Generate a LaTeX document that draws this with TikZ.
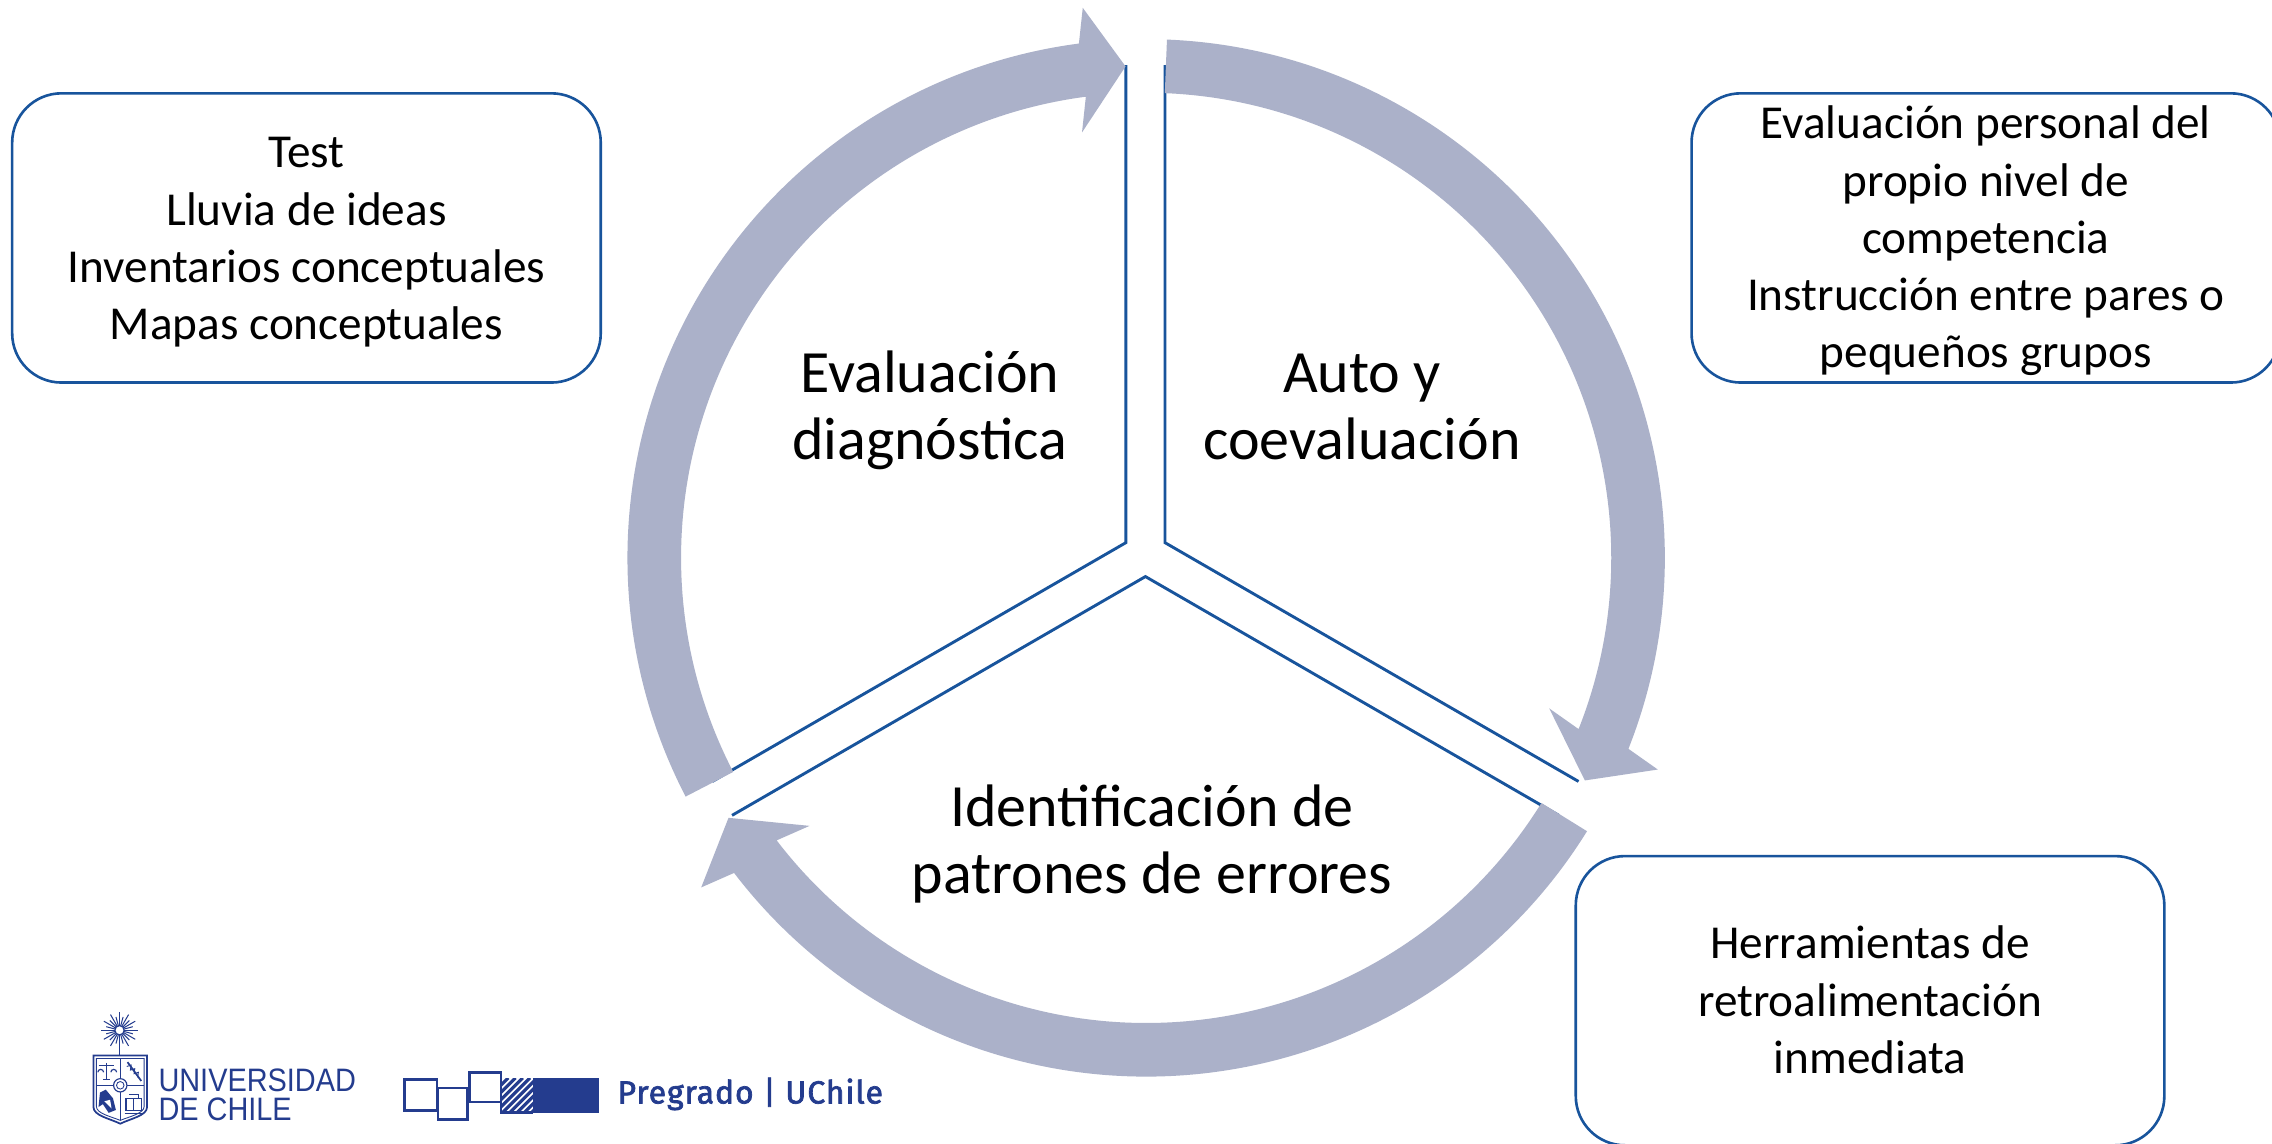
\documentclass[tikz,border=0pt]{standalone}
\usepackage{fontspec}
\setmainfont{Carlito}
\newfontfamily\ucfont[FakeStretch=0.89]{Liberation Sans}
\newfontfamily\pgfont[FakeBold=2.2,LetterSpace=3]{Fira Sans}
\usetikzlibrary{calc}
\definecolor{ringgray}{RGB}{171,177,201}
\definecolor{lineblue}{RGB}{24,84,156}
\definecolor{logoblue}{RGB}{36,60,142}
\newcommand{\cycarrow}[3]{%
  \fill[ringgray] (#1:\Ro) arc[start angle=#1, end angle=#2, radius=\Ro]
    -- ($(#2:\Rm)+(#2-7.8:\Hw)$) -- (#3:\Rm) -- ($(#2:\Rm)+(#2+172.2:\Hw)$)
    -- (#2:\Ri) arc[start angle=#2, end angle=#1, radius=\Ri] -- cycle;}
\begin{document}
\begin{tikzpicture}[x=0.5pt,y=-0.5pt,
  infobox/.style={draw=lineblue, line width=0.9pt, rounded corners=17pt,
    minimum width=203.1pt, minimum height=99.8pt, inner sep=0pt, outer sep=0pt},
  boxtext/.style={align=center, font=\fontsize{16.3pt}{19.7pt}\selectfont, inner sep=0pt},
  bigtext/.style={align=center, font=\fontsize{20.7pt}{23.15pt}\selectfont, inner sep=0pt},
  wedgeline/.style={draw=lineblue, line width=1pt, line join=miter},
  logoline/.style={draw=logoblue, line width=0.4pt},
  ucname/.style={anchor=base west, inner sep=0pt, text=logoblue,
    font=\ucfont\fontsize{11.2pt}{12pt}\selectfont},
]
\fill[white] (0,0) rectangle (1568,789.5);
\useasboundingbox (0,0) rectangle (1568,789.5);

% side boxes
\node[infobox] (b1) at (211.5,164.2) {};
\node[infobox] (b2) at (1370.5,164.2) {};
\node[infobox] (b3) at (1290.6,690.6) {};
\node[boxtext] (t1) at (211.5,167.1) {\strut Test\\Lluvia de ideas\\Inventarios conceptuales\\Mapas conceptuales\strut};
\node[boxtext] (t2) at (1370.5,166.8) {\strut Evaluación personal del\\propio nivel de\\competencia\\Instrucción entre pares o\\pequeños grupos\strut};
\node[boxtext] (t3) at (1290.6,693.3) {\strut Herramientas de\\retroalimentación\\inmediata\strut};

% wedge sides
\draw[wedgeline] (777,45) -- (777,374.5) -- (491.6,539.3);
\draw[wedgeline] (804,45) -- (804,374.5) -- (1089.4,539.3);
\draw[wedgeline] (505.2,562.7) -- (790.5,397.9) -- (1075.8,562.7);

% circular arrows
\begin{scope}[shift={(791,385)}, yscale=-1]
  \def\Ro{358}\def\Ri{321}\def\Rm{339.5}\def\Hw{43}
  \cycarrow{207.4}{97.45}{92.4}
  \cycarrow{87.7}{-21.6}{-26.9}
  \cycarrow{-31.8}{-142.6}{-148.1}
\end{scope}

% stage labels
\node[bigtext] (l1) at (641.7,284.5) {\strut Evaluación\\diagnóstica\strut};
\node[bigtext] (l2) at (940,284.5) {\strut Auto y\\coevaluación\strut};
\node[bigtext] (l3) at (795,584.4) {\strut Identificación de\\patrones de errores\strut};

% Universidad de Chile logo
\foreach \a in {0,30,...,330} {
  \draw[logoline, line width=0.35pt] (82.5,711) -- ++(\a:12.5);
  \draw[logoline, line width=0.35pt] (82.5,711) -- ++(\a+15:9.5);
}
\filldraw[fill=white, logoline] (82.5,711) circle[radius=3.2];
\draw[logoline] (82.5,722) -- (82.5,728.5);
\draw[logoline, line width=0.6pt] (64.5,728.5) -- (101.5,728.5) -- (101.5,764)
  .. controls (101.5,770) and (90,772) .. (83,775.5)
  .. controls (76,772) and (64.5,770) .. (64.5,764) -- cycle;
\draw[logoline, line width=0.3pt] (66.5,730.5) -- (99.5,730.5) -- (99.5,763.5)
  .. controls (99.5,768.5) and (89.5,770.5) .. (83,773.2)
  .. controls (76.5,770.5) and (66.5,768.5) .. (66.5,763.5) -- cycle;
\draw[logoline] (83,730.5) -- (83,773) (66.5,749) -- (99.5,749);
\filldraw[fill=white, logoline] (83,749) circle[radius=4.6];
\draw[logoline, line width=0.3pt] (83,749) circle[radius=2.6];
% scales
\draw[logoline] (68,735.5) -- (79,735.5) (73.5,733.5) -- (73.5,745) (71,745) -- (76,745);
\draw[logoline] (67.5,740) arc[start angle=180, end angle=360, radius=2]
  (76.5,740) arc[start angle=180, end angle=360, radius=2];
% caduceus
\draw[logoline, line width=0.6pt] (88,733) -- (97.5,746);
\draw[logoline, line width=0.3pt] (87.5,736) -- (90.5,735) -- (90,738.5) -- (93,737.5) -- (92.5,741) -- (95.5,740) -- (95,743.5);
% lower-left figure
\fill[logoblue] (69,754) -- (73,752) -- (78,758) -- (80,766) -- (75,768) -- (71,762) -- (68,764) -- cycle;
\fill[white] (72,760) -- (76,759) -- (77,765) -- cycle;
% lower-right book
\draw[logoline] (87,758) rectangle (97.5,766.5) (86,768.5) -- (98.5,768.5) (89,755.5) -- (95.5,755.5) -- (95.5,758);
\draw[logoline, line width=0.3pt] (92.2,758) -- (92.2,766.5);
\node[ucname] (uch1) at (109,753.4) {UNIVERSIDAD};
\node[ucname] (uch2) at (109,773) {DE CHILE};

% Pregrado logo
\begin{scope}[draw=logoblue, line width=0.9pt]
  \filldraw[fill=white] (279.2,745.1) rectangle (301.5,766.3);
  \filldraw[fill=white] (302.3,750.9) rectangle (322.8,772.5);
  \filldraw[fill=white] (324.1,740.1) rectangle (345.8,760.5);
\end{scope}
\fill[logoblue] (368,744.2) rectangle (413.4,767.9);
\begin{scope}
  \clip (345.8,744.2) rectangle (368,767.9);
  \fill[white] (345.8,744.2) rectangle (368,767.9);
  \foreach \k in {-24,-19,...,26} {
    \draw[logoblue, line width=1.1pt] (345.8+\k,767.9) -- ++(24,-24);
  }
\end{scope}
\draw[logoblue, line width=0.9pt] (345.8,744.2) -- (345.8,767.9) -- (368,767.9);
\node[anchor=base west, inner sep=0pt, text=logoblue,
  font=\pgfont\fontsize{11pt}{12pt}\selectfont] (pg) at (425.8,761.5) {Pregrado | UChile};
\end{tikzpicture}
\end{document}
